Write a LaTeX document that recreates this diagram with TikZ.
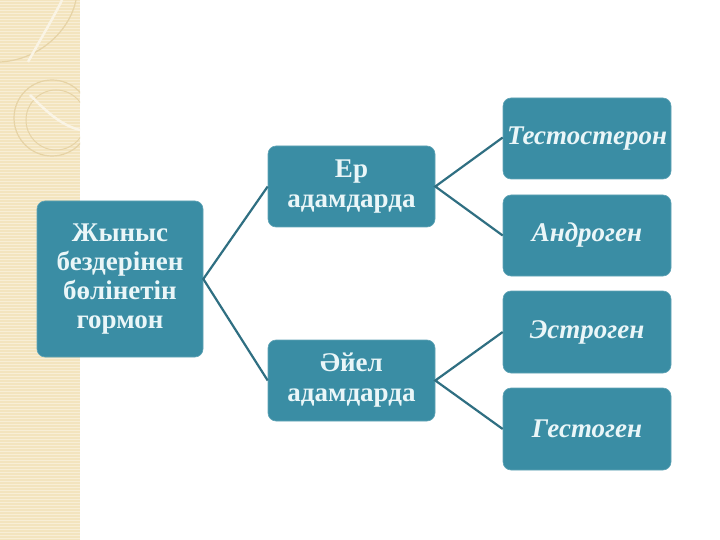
\documentclass[tikz,border=0pt]{standalone}
\usepackage{fontspec}
\setmainfont{Liberation Serif}
\definecolor{boxfill}{HTML}{3A8DA4}
\definecolor{boxtext}{HTML}{EAF6F8}
\definecolor{linecol}{HTML}{2F6F82}
\definecolor{stripbg}{HTML}{F3E4BE}
\definecolor{stripline}{HTML}{F8EED6}
\definecolor{stripdeco}{HTML}{E6D3A6}
\tikzset{
  box/.style={fill=boxfill, draw=boxfill!80!white, line width=0.6pt, rounded corners=8pt,
    text=boxtext, font=\bfseries\fontsize{27}{29}\selectfont, align=center, inner sep=2pt},
  mbox/.style={box, font=\bfseries\fontsize{27}{30}\selectfont},
  rbox/.style={box, font=\bfseries\itshape\fontsize{27}{30}\selectfont},
  conn/.style={draw=linecol, line width=2.2pt}
}
\begin{document}
\begin{tikzpicture}[x=1pt,y=-1pt]
\useasboundingbox (0,0) rectangle (720,540);
\fill[white] (0,0) rectangle (720,540);
% decorative strip
\fill[stripbg] (0,0) rectangle (80,540);
\foreach \yy in {1,4,...,540} {\draw[stripline, line width=0.8pt] (0,\yy) -- (80,\yy);}
\begin{scope}
\clip (0,0) rectangle (80,540);
\draw[stripdeco, line width=1.2pt] (0,62) .. controls (40,60) and (70,30) .. (76,0);
\draw[white!60!stripbg, line width=2.5pt] (28,62) .. controls (40,40) and (55,15) .. (62,0);
\draw[stripdeco, line width=1.2pt] (52,118) circle (38);
\draw[stripdeco, line width=1pt] (56,120) circle (30);
\draw[white!60!stripbg, line width=2.5pt] (30,95) .. controls (45,110) and (60,125) .. (80,130);
\end{scope}
% nodes
\node[box, minimum width=166pt, minimum height=156pt, text width=162pt] (root) at (120,279)
  {Жыныс\\бездерінен\\бөлінетін\\гормон};
\node[mbox, minimum width=167pt, minimum height=81pt, text width=162pt] (er) at (351.5,186.5)
  {Ер\\адамдарда};
\node[mbox, minimum width=167pt, minimum height=81pt, text width=162pt] (ay) at (351.5,380.5)
  {Әйел\\адамдарда};
\node[rbox, minimum width=166pt, minimum height=81pt, text width=164pt] (t1) at (587,138.5) {Тестостерон};
\node[rbox, minimum width=166pt, minimum height=81pt, text width=164pt] (t2) at (587,235.5) {Андроген};
\node[rbox, minimum width=166pt, minimum height=82pt, text width=164pt] (t3) at (587,332) {Эстроген};
\node[rbox, minimum width=166pt, minimum height=82pt, text width=164pt] (t4) at (587,429) {Гестоген};
% connectors
\draw[conn] (er.west) -- (root.east) -- (ay.west);
\draw[conn] ([yshift=1pt]t1.west) -- (er.east) -- (t2.west);
\draw[conn] (t3.west) -- (ay.east) -- (t4.west);
\end{tikzpicture}
\end{document}
